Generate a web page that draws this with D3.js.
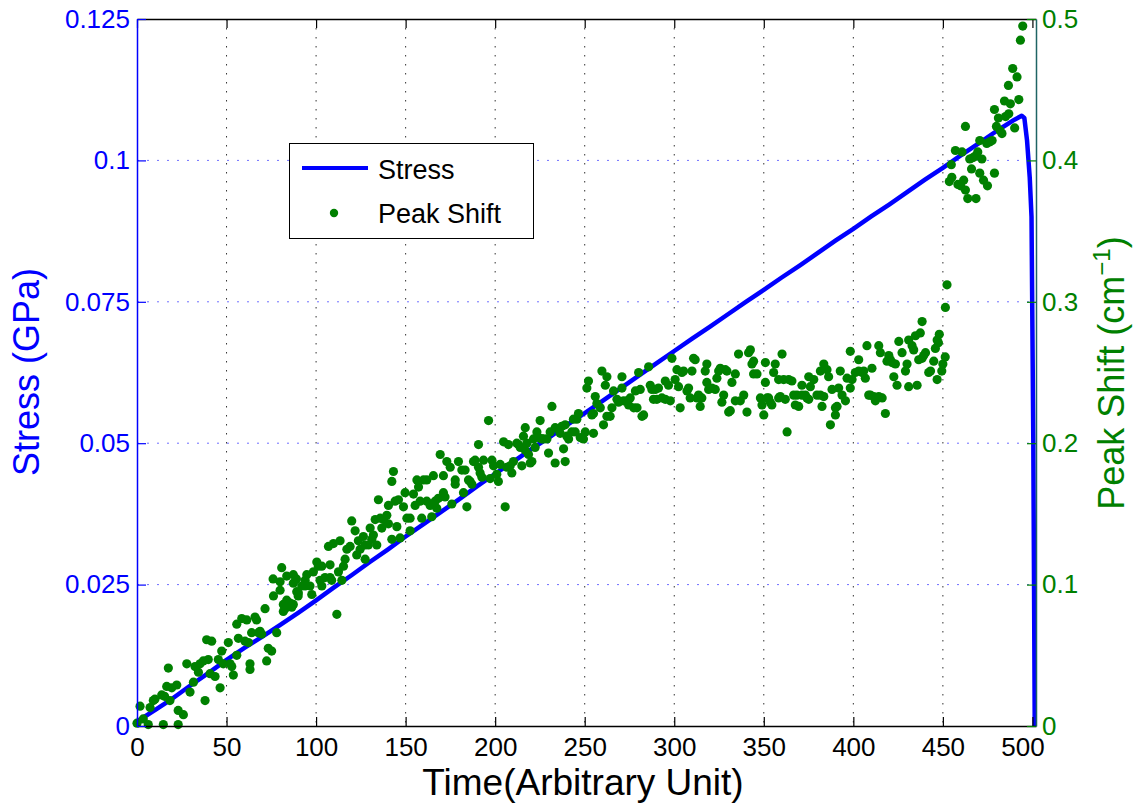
<!DOCTYPE html>
<html>
<head>
<meta charset="utf-8">
<script src="https://cdn.jsdelivr.net/npm/d3@7/dist/d3.min.js"></script>
<style>
  body { margin: 0; background: #fff; }
  text { font-family: "Liberation Sans", Arial, Helvetica, sans-serif; }
</style>
</head>
<body>
<script>
// stress curve (left axis, GPa)
var stressTime = [0, 10, 20, 30, 40, 50, 60, 70, 80, 90, 100, 110, 120, 130, 140, 150, 160, 170, 180, 190,
  200, 210, 220, 230, 240, 250, 260, 270, 280, 290, 300, 310, 320, 330, 340, 350, 360, 370, 380, 390,
  400, 410, 420, 430, 440, 450, 460, 470, 480, 490, 494, 495.5, 497, 498.5, 499.5, 500.5, 501.3];
var stressValue = [0.0008, 0.0028, 0.0049, 0.0072, 0.0094, 0.0117, 0.0138, 0.0158, 0.0179, 0.0200,
  0.0222, 0.0245, 0.0267, 0.0290, 0.0312, 0.0335, 0.0357, 0.0379, 0.0401, 0.0424,
  0.0446, 0.0467, 0.0489, 0.0510, 0.0532, 0.0553, 0.0575, 0.0597, 0.0619, 0.0641,
  0.0663, 0.0685, 0.0706, 0.0728, 0.0750, 0.0771, 0.0793, 0.0814, 0.0836, 0.0858,
  0.0879, 0.0901, 0.0922, 0.0944, 0.0966, 0.0987, 0.1009, 0.1030, 0.1052, 0.1072,
  0.1079, 0.1075, 0.1035, 0.0970, 0.0900, 0.0500, 0];

// peak shift points (right axis, cm^-1): [time, shift]
var peakShift = [
  [0,0.002],[1.7,0.014],[3.5,0.005],[6.3,0.001],[7.3,0.013],[9.1,0.018],[10,0.019],[13.8,0.022],[14.7,0.001],[15.4,0.021],
  [16.6,0.028],[19.4,0.027],[18.4,0.018],[22.2,0.029],[23,0.011],[25.9,0.008],[23,0.001],[17.5,0.041],[27.8,0.044],[29.6,0.024],
  [31.5,0.031],[32.4,0.042],[34.3,0.038],[35.2,0.044],[37,0.046],[38,0.018],[38.9,0.061],[39.8,0.047],[41.7,0.060],[40.8,0.037],
  [43.6,0.035],[45.4,0.047],[46.4,0.027],[47.3,0.053],[48.2,0.044],[51,0.059],[52,0.044],[52.9,0.042],[53.8,0.036],[55.7,0.050],
  [55.7,0.072],[56.6,0.062],[58.5,0.076],[60.3,0.060],[61.3,0.075],[62.2,0.059],[63.1,0.044],[63.1,0.040],[64,0.066],[65.9,0.077],
  [66.8,0.075],[67.8,0.066],[68.7,0.067],[69.6,0.065],[71.5,0.083],[72.4,0.046],[73.3,0.055],[75.2,0.053],[76.2,0.092],[78,0.066],
  [79.9,0.096],[81.7,0.086],[81.7,0.081],[83.6,0.089],[85.5,0.087],[87.3,0.086],[87.3,0.101],[89.2,0.095],[90,0.092],[76,0.104],
  [89,0.104],[80.8,0.112],[83.6,0.106],[87.3,0.107],[79.9,0.102],[82.7,0.083],[86.4,0.084],[90.1,0.094],[92,0.099],[93.9,0.103],
  [93.9,0.099],[94.8,0.107],[96.6,0.099],[97.6,0.093],[98.5,0.109],[100.4,0.116],[101.3,0.113],[103.2,0.113],[102.2,0.103],[103.2,0.099],
  [105,0.105],[107.8,0.114],[107.8,0.105],[108.7,0.103],[111.6,0.079],[112.5,0.109],[114.4,0.103],[115.3,0.113],[116.2,0.118],[106.9,0.127],
  [109.7,0.129],[113.4,0.131],[117.2,0.125],[119,0.127],[119.9,0.145],[121.8,0.138],[122.7,0.121],[123.6,0.131],[124.6,0.125],[126.4,0.134],
  [127.4,0.118],[127.4,0.128],[129.2,0.128],[130.2,0.140],[131.1,0.132],[132,0.135],[133,0.146],[133.9,0.128],[134.8,0.160],[135.8,0.147],
  [136.7,0.140],[137.6,0.146],[139.5,0.149],[140.4,0.156],[140.4,0.143],[142.3,0.132],[143.2,0.180],[142.3,0.173],[144.1,0.159],[145.1,0.141],
  [146,0.160],[146.9,0.133],[148.8,0.155],[149.7,0.165],[150.7,0.147],[152.5,0.138],[152.5,0.147],[154.4,0.164],[155.3,0.156],[156.3,0.174],
  [157.2,0.169],[158.1,0.159],[159,0.147],[160,0.174],[161.8,0.159],[161.8,0.174],[163.7,0.156],[164.6,0.148],[165.5,0.177],[166.5,0.159],
  [167.4,0.154],[168.3,0.161],[169.3,0.192],[171.1,0.177],[171.1,0.165],[172,0.162],[173,0.187],[174.9,0.183],[175.8,0.157],[177.7,0.174],
  [177.7,0.171],[179.5,0.187],[181.4,0.181],[182.3,0.165],[183.2,0.181],[184.2,0.155],[185.1,0.174],[186,0.173],[187,0.171],[187.9,0.187],
  [188.8,0.188],[190.7,0.199],[190.7,0.183],[191.6,0.179],[192.6,0.176],[193.5,0.188],[196.3,0.216],[197.2,0.175],[198.2,0.188],[199.1,0.184],
  [200.9,0.178],[201.8,0.173],[202.8,0.185],[204.7,0.201],[205.6,0.155],[206.5,0.183],[207.4,0.199],[208.4,0.184],[209.3,0.179],[210.2,0.187],
  [212.1,0.200],[213,0.199],[214,0.197],[214.9,0.184],[215.8,0.205],[216.8,0.211],[216.8,0.195],[217.7,0.200],[218.6,0.192],[219.6,0.186],
  [220.5,0.187],[221.4,0.203],[222.3,0.197],[223.3,0.208],[224.2,0.204],[225.1,0.216],[226.1,0.203],[227,0.203],[228.9,0.203],[229.8,0.193],
  [230.7,0.208],[231.7,0.226],[233.5,0.186],[233.5,0.211],[235.4,0.210],[236.3,0.207],[237.2,0.212],[238.2,0.196],[239.1,0.213],[239.1,0.187],
  [240,0.205],[241,0.203],[242.8,0.208],[243.7,0.217],[244.7,0.208],[245.6,0.217],[246.5,0.221],[247.5,0.204],[249.3,0.203],[250.3,0.208],
  [251.2,0.239],[252.1,0.244],[254,0.220],[254.9,0.221],[254.9,0.207],[255.9,0.233],[256.8,0.228],[258.7,0.225],[259.6,0.251],[260.5,0.213],
  [261.5,0.241],[262.4,0.247],[262.4,0.219],[264.2,0.219],[265.2,0.225],[266.1,0.237],[268,0.231],[268.9,0.229],[270.8,0.239],[270.8,0.247],
  [271.7,0.230],[273.6,0.230],[274.5,0.227],[275.4,0.232],[277.4,0.225],[278.3,0.237],[279.2,0.225],[280.1,0.250],[281,0.238],[282,0.219],
  [282.9,0.220],[285.7,0.254],[286.6,0.241],[287.5,0.238],[288.4,0.231],[289.4,0.238],[290.3,0.231],[291.2,0.239],[293.1,0.232],[295,0.231],
  [295,0.244],[296.8,0.241],[297.8,0.230],[298.7,0.260],[300.5,0.245],[301.5,0.252],[302.4,0.240],[303.3,0.225],[304.3,0.250],[305.2,0.251],
  [307.1,0.237],[308,0.239],[308.9,0.232],[309.9,0.251],[310.8,0.260],[311.7,0.259],[312.7,0.232],[313.6,0.234],[314.5,0.226],[315.4,0.232],
  [317.3,0.251],[318.2,0.256],[318.2,0.243],[319.2,0.238],[321,0.239],[322.9,0.238],[323.8,0.246],[324.8,0.251],[325.7,0.253],[326.6,0.229],
  [327.6,0.234],[328.5,0.252],[329.4,0.251],[330.4,0.222],[331.3,0.223],[332.2,0.243],[334.1,0.249],[334.1,0.230],[335.9,0.263],[336.9,0.230],
  [338.8,0.234],[340.6,0.222],[341.5,0.264],[342.5,0.266],[343.4,0.256],[344.3,0.258],[344.3,0.249],[346.2,0.249],[348.1,0.232],[349,0.227],
  [350,0.220],[350.9,0.257],[350.9,0.243],[351.8,0.232],[352.7,0.232],[353.6,0.229],[354.5,0.227],[355.5,0.250],[356.4,0.256],[358.3,0.245],
  [358.3,0.232],[359.2,0.233],[360.2,0.263],[361.1,0.245],[362,0.231],[363,0.208],[363.9,0.245],[365.7,0.244],[366.7,0.234],[367.6,0.227],
  [368.5,0.234],[369.5,0.226],[371.3,0.241],[371.3,0.234],[373.2,0.234],[374.1,0.232],[375.1,0.247],[376,0.240],[375.1,0.231],[377.9,0.245],
  [379.7,0.234],[381.6,0.234],[382.5,0.226],[383.5,0.233],[381.6,0.251],[383.5,0.256],[385.3,0.252],[386.2,0.247],[387.2,0.213],[388.1,0.238],
  [390,0.220],[390,0.225],[390.9,0.226],[391.8,0.239],[392.7,0.251],[393.7,0.234],[395.6,0.230],[396.5,0.246],[398.3,0.239],[398.3,0.265],
  [399.3,0.245],[401.1,0.250],[403,0.259],[403,0.251],[404.9,0.250],[405.8,0.251],[406.7,0.246],[407.6,0.269],[408.6,0.234],[409.5,0.234],
  [410.4,0.253],[411.4,0.233],[412.3,0.230],[414.2,0.233],[414.2,0.269],[415.1,0.264],[416.1,0.232],[417.9,0.221],[418.8,0.258],[419.8,0.262],
  [420.7,0.259],[421.6,0.257],[422.6,0.247],[423.5,0.256],[424.4,0.241],[425.4,0.272],[427.2,0.264],[429.1,0.251],[430,0.256],[430.9,0.240],
  [430.9,0.273],[432.8,0.269],[433.7,0.266],[434.7,0.276],[435.6,0.241],[436.5,0.259],[438.4,0.260],[438.4,0.286],[439.3,0.262],[440.3,0.264],
  [437.4,0.278],[442.1,0.250],[443.1,0.251],[444.9,0.258],[445.8,0.267],[446.8,0.273],[446.8,0.245],[447.5,0.271],[448,0.277],[449.4,0.251],
  [450,0.256],[451.3,0.261],[451.4,0.296],[452.3,0.312],
  [453.6,0.385],[454.7,0.397],[455,0.388],[457,0.407],[458.4,0.383],[459.9,0.382],[460.7,0.406],[461.6,0.386],[462.6,0.424],[462.6,0.379],
  [463.9,0.373],[465,0.401],[466,0.394],[466.9,0.402],[468,0.403],[468.5,0.373],[469.5,0.406],[470.6,0.414],[470.6,0.391],[471.8,0.401],
  [472.7,0.386],[474.5,0.412],[474.9,0.382],[476,0.413],[477.5,0.414],[478.8,0.436],[478.8,0.391],[479.9,0.424],[481,0.430],[482,0.421],
  [483,0.419],[484.4,0.442],[485,0.431],[486.6,0.453],[486.8,0.433],[487.7,0.440],[489,0.465],[490.1,0.423],[491.4,0.459],[492.4,0.443],
  [493.3,0.485],[494.6,0.495]
];

// ticks
var xTicks = [0, 50, 100, 150, 200, 250, 300, 350, 400, 450, 500];
var leftTicks = [0, 0.025, 0.05, 0.075, 0.1, 0.125];
var leftTickLabels = ["0", "0.025", "0.05", "0.075", "0.1", "0.125"];
var rightTicks = [0, 0.1, 0.2, 0.3, 0.4, 0.5];
var rightTickLabels = ["0", "0.1", "0.2", "0.3", "0.4", "0.5"];

var width = 1135;
var height = 804;
var plot = { left: 137, right: 1036, top: 19, bottom: 726 };
var blue = "#0000ff";
var green = "#008000";

var svg = d3.select("body")
  .append("svg")
  .attr("width", width)
  .attr("height", height);

var x = d3.scaleLinear().domain([0, 502]).range([plot.left, plot.right]);
var yLeft = d3.scaleLinear().domain([0, 0.125]).range([plot.bottom, plot.top]);
var yRight = d3.scaleLinear().domain([0, 0.5]).range([plot.bottom, plot.top]);

// grid
svg.append("g")
  .selectAll("line")
  .data(xTicks.slice(1, -1))
  .enter()
  .append("line")
  .attr("x1", function (d) { return x(d); })
  .attr("x2", function (d) { return x(d); })
  .attr("y1", plot.top)
  .attr("y2", plot.bottom)
  .attr("stroke", "#333")
  .attr("stroke-width", 1)
  .attr("stroke-dasharray", "1.5,7.5");

svg.append("g")
  .selectAll("line")
  .data(leftTicks.slice(1, -1))
  .enter()
  .append("line")
  .attr("x1", plot.left)
  .attr("x2", plot.right)
  .attr("y1", function (d) { return yLeft(d); })
  .attr("y2", function (d) { return yLeft(d); })
  .attr("stroke", "#6f6fff")
  .attr("stroke-width", 1)
  .attr("stroke-dasharray", "2,8");

// stress line
var line = d3.line()
  .x(function (d, i) { return x(stressTime[i]); })
  .y(function (d) { return yLeft(d); });

svg.append("path")
  .datum(stressValue)
  .attr("fill", "none")
  .attr("stroke", blue)
  .attr("stroke-width", 4.5)
  .attr("stroke-linejoin", "round")
  .attr("d", line);

// peak shift dots
svg.append("g")
  .selectAll("circle")
  .data(peakShift)
  .enter()
  .append("circle")
  .attr("cx", function (d) { return x(d[0]); })
  .attr("cy", function (d) { return yRight(d[1]); })
  .attr("r", 4.6)
  .attr("fill", green);

// axes
function styleAxis(g, color, fontSize) {
  g.select(".domain").attr("stroke", color).attr("stroke-width", 1.5);
  g.selectAll(".tick line").attr("stroke", color).attr("stroke-width", 1.2);
  g.selectAll(".tick text")
    .attr("fill", color)
    .attr("font-size", fontSize)
    .attr("font-family", "Liberation Sans, Arial, sans-serif");
}

var bottomAxis = svg.append("g")
  .attr("transform", "translate(0," + plot.bottom + ")")
  .call(d3.axisBottom(x).tickValues(xTicks).tickSizeInner(-9).tickSizeOuter(0).tickPadding(12));
styleAxis(bottomAxis, "#000", 26);
// last label sits a bit left of the right axis, as in the original
bottomAxis.selectAll(".tick text")
  .filter(function (d) { return d === 500; })
  .attr("dx", -10);

var topAxis = svg.append("g")
  .attr("transform", "translate(0," + plot.top + ")")
  .call(d3.axisTop(x).tickValues(xTicks).tickSizeInner(-9).tickSizeOuter(0).tickFormat(""));
styleAxis(topAxis, "#000", 26);

var leftAxis = svg.append("g")
  .attr("transform", "translate(" + plot.left + ",0)")
  .call(d3.axisLeft(yLeft).tickValues(leftTicks).tickSizeInner(-9).tickSizeOuter(0).tickPadding(7)
    .tickFormat(function (d, i) { return leftTickLabels[i]; }));
styleAxis(leftAxis, blue, 26);

var rightAxis = svg.append("g")
  .attr("transform", "translate(" + plot.right + ",0)")
  .call(d3.axisRight(yRight).tickValues(rightTicks).tickSizeInner(-9).tickSizeOuter(0).tickPadding(6)
    .tickFormat(function (d, i) { return rightTickLabels[i]; }));
styleAxis(rightAxis, green, 26);
rightAxis.select(".domain").attr("stroke", "#1f6464");

// axis titles
svg.append("text")
  .attr("x", 583)
  .attr("y", 795)
  .attr("text-anchor", "middle")
  .attr("font-size", 37)
  .attr("fill", "#000")
  .text("Time(Arbitrary Unit)");

svg.append("text")
  .attr("transform", "translate(39,372) rotate(-90)")
  .attr("text-anchor", "middle")
  .attr("font-size", 36)
  .attr("fill", blue)
  .text("Stress (GPa)");

var rightTitle = svg.append("text")
  .attr("transform", "translate(1124,373) rotate(-90)")
  .attr("text-anchor", "middle")
  .attr("font-size", 36)
  .attr("fill", green);
rightTitle.append("tspan").text("Peak Shift (cm");
rightTitle.append("tspan").attr("font-size", 24).attr("dy", -14).text("\u22121");
rightTitle.append("tspan").attr("dy", 14).text(")");

// legend
var legend = svg.append("g");
legend.append("rect")
  .attr("x", 289.5)
  .attr("y", 143.5)
  .attr("width", 244)
  .attr("height", 95)
  .attr("fill", "#fff")
  .attr("stroke", "#000")
  .attr("stroke-width", 1);
legend.append("line")
  .attr("x1", 302).attr("x2", 368)
  .attr("y1", 168).attr("y2", 168)
  .attr("stroke", blue)
  .attr("stroke-width", 4);
legend.append("circle")
  .attr("cx", 334).attr("cy", 213)
  .attr("r", 4.2)
  .attr("fill", green);
legend.append("text")
  .attr("x", 378).attr("y", 179)
  .attr("font-size", 27)
  .text("Stress");
legend.append("text")
  .attr("x", 378).attr("y", 223)
  .attr("font-size", 27)
  .text("Peak Shift");
</script>
</body>
</html>
